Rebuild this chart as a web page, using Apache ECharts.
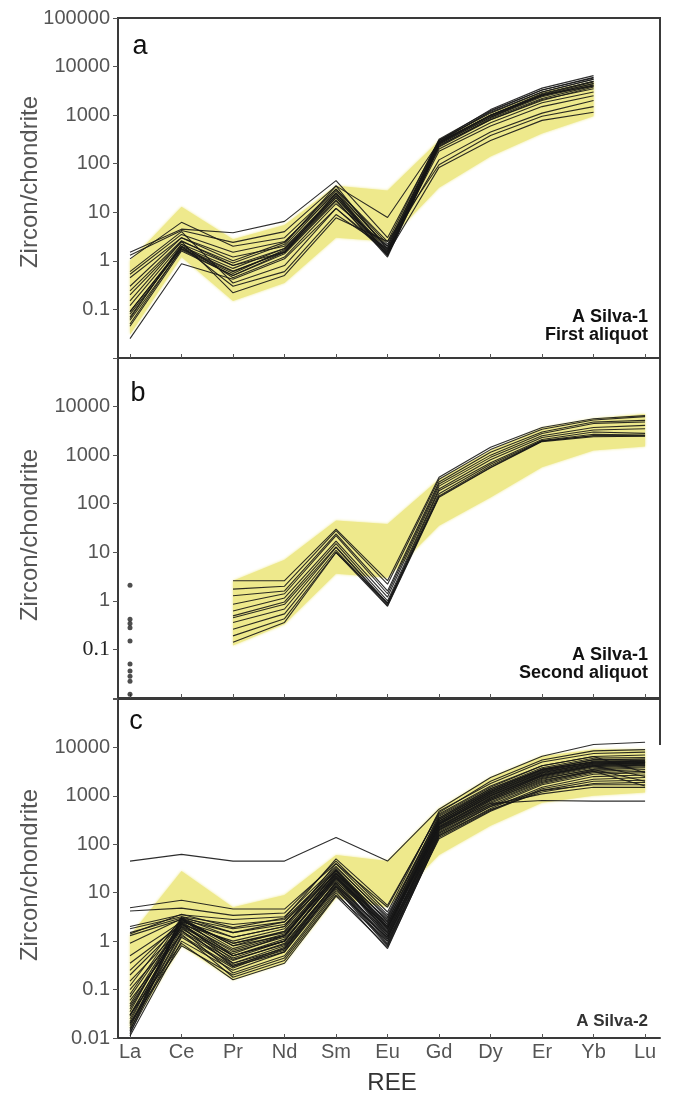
<!DOCTYPE html>
<html>
<head>
<meta charset="utf-8">
<script src="https://cdn.jsdelivr.net/npm/echarts@6/dist/echarts.min.js"></script>
<style>html,body{margin:0;padding:0;background:#fff}#c{width:673px;height:1096px}</style>
</head>
<body>
<div id="c"></div>
<script>
const categories = ['La','Ce','Pr','Nd','Sm','Eu','Gd','Dy','Er','Yb','Lu'];
const yTickLabelsA = ['', '0.1', '1', '10', '100', '1000', '10000', '100000'];
const yTickLabelsB = ['', '{s|0.1}', '1', '10', '100', '1000', '10000', ''];
const yTickLabelsC = ['0.01', '0.1', '1', '10', '100', '1000', '10000', ''];

// Panel a (La..Yb)
const bandAUpper = [1.0, 13, 2.8, 5.5, 35, 28, 300, 1100, 3000, 5000];
const bandALower = [0.03, 1.2, 0.15, 0.35, 3, 2.5, 32, 140, 420, 950];
const linesA = [
  [1.5, 4.5, 3.8, 6.5, 45, 3.0, 300, 1300, 3600, 6500],
  [1.3, 4.2, 2.4, 4.0, 35, 7.8, 280, 1200, 3300, 6000],
  [1.1, 6.2, 2.0, 3.0, 30, 2.5, 320, 1250, 3300, 5800],
  [0.53, 3.5, 1.5, 2.5, 25, 2.0, 300, 1100, 3000, 5500],
  [0.45, 3.0, 1.2, 2.0, 28, 1.8, 280, 1000, 2800, 5000],
  [0.24, 2.6, 0.8, 1.8, 22, 1.5, 250, 900, 2600, 4800],
  [0.09, 1.9, 0.62, 1.5, 20, 1.3, 260, 950, 2500, 4500],
  [0.08, 1.8, 0.6, 1.6, 22, 1.4, 250, 900, 2400, 4200],
  [0.06, 1.7, 0.5, 1.5, 18, 1.2, 230, 850, 2200, 4000],
  [0.05, 1.75, 0.55, 1.7, 20, 1.5, 240, 800, 2000, 3800],
  [0.07, 2.0, 0.7, 1.8, 24, 1.6, 270, 1000, 2600, 4000],
  [0.045, 1.6, 0.5, 1.4, 17, 1.3, 220, 800, 2100, 3500],
  [0.12, 2.2, 0.45, 1.2, 15, 2.0, 200, 700, 1800, 3000],
  [0.3, 3.0, 1.0, 2.4, 30, 2.2, 280, 1000, 2500, 4500],
  [0.6, 4.0, 0.35, 0.8, 12, 1.6, 180, 600, 1500, 2500],
  [0.09, 2.0, 0.3, 0.6, 9, 1.8, 120, 450, 1100, 2000],
  [0.2, 2.5, 0.22, 0.5, 7.7, 2.5, 95, 380, 950, 1500],
  [0.025, 0.87, 0.42, 1.1, 12, 1.4, 84, 300, 780, 1150],
  [0.065, 2.2, 0.8, 1.5, 25, 1.3, 260, 1000, 2700, 5000],
  [0.15, 2.5, 0.9, 2.2, 35, 1.7, 300, 1150, 3000, 5500]
];

// Panel b (Pr..Lu) and La points
const bandBUpper = [2.6, 7, 45, 38, 320, 1250, 3600, 5600, 7000];
const bandBLower = [0.12, 0.33, 3.6, 3, 35, 135, 560, 1240, 1500];
const linesB = [
  [2.6, 2.6, 30, 2.6, 350, 1450, 3700, 5600, 6500],
  [1.74, 2.0, 28, 2.2, 320, 1300, 3400, 5300, 6200],
  [1.27, 1.6, 24, 1.6, 280, 1150, 3000, 4800, 5200],
  [0.85, 1.4, 22, 1.4, 255, 1000, 2800, 4500, 4800],
  [0.62, 1.15, 17, 1.2, 230, 900, 2500, 3700, 4100],
  [0.49, 0.95, 15, 1.0, 200, 800, 2300, 3300, 3500],
  [0.45, 0.85, 13, 0.9, 185, 700, 2100, 3000, 2800],
  [0.36, 0.68, 12.6, 0.85, 160, 650, 2000, 2700, 2600],
  [0.26, 0.54, 11, 0.8, 145, 600, 1950, 2500, 2500],
  [0.19, 0.43, 10, 0.77, 135, 550, 1900, 2400, 2450],
  [0.14, 0.36, 9.9, 0.9, 140, 560, 1950, 2500, 2500]
];
const laPointsB = [2.1, 0.42, 0.34, 0.28, 0.15, 0.05, 0.036, 0.028, 0.022, 0.012];

// Panel c (La..Lu)
const bandCUpper = [1.3, 28, 5, 9, 60, 45, 550, 2400, 6600, 9100, 9100];
const bandCLower = [0.015, 0.8, 0.16, 0.35, 8, 5, 60, 240, 720, 1000, 1180];
const linesC = [
  [45, 62, 45, 45, 138, 45, 530, 2400, 6600, 11500, 12800],
  [4.9, 7.0, 4.6, 4.6, 40, 5.0, 450, 2000, 5500, 8500, 9000],
  [4.2, 4.8, 3.4, 3.8, 45, 4.0, 480, 1800, 5000, 7500, 8000],
  [2.0, 3.5, 2.8, 3.2, 35, 3.0, 400, 1500, 4200, 6500, 7000],
  [1.8, 3.2, 2.2, 2.8, 30, 2.5, 350, 1400, 3800, 6000, 6200],
  [1.5, 3.0, 1.8, 2.5, 28, 2.2, 320, 1300, 3600, 5500, 5800],
  [1.3, 2.8, 1.5, 2.2, 25, 2.8, 300, 1200, 3400, 5200, 5400],
  [0.5, 2.5, 1.2, 2.0, 40, 3.5, 380, 1400, 3500, 5000, 5200],
  [0.35, 2.2, 1.0, 1.8, 30, 2.0, 280, 1100, 3000, 4800, 5000],
  [0.25, 2.6, 0.9, 1.5, 22, 1.8, 260, 1000, 2800, 4500, 4800],
  [0.12, 3.0, 0.8, 1.6, 26, 1.5, 300, 1200, 3200, 5000, 5000],
  [0.08, 2.8, 0.7, 1.4, 20, 1.6, 250, 1000, 2700, 4300, 4600],
  [0.05, 2.5, 0.6, 1.2, 24, 1.4, 240, 900, 2500, 4000, 4400],
  [0.04, 2.2, 0.55, 1.3, 28, 1.8, 270, 1100, 3000, 4600, 4800],
  [0.03, 2.0, 0.5, 1.1, 18, 1.2, 220, 850, 2400, 3800, 4200],
  [0.025, 1.8, 0.45, 1.0, 22, 1.3, 230, 900, 2600, 4200, 4500],
  [0.02, 1.6, 0.4, 0.9, 16, 1.1, 200, 800, 2200, 3600, 4000],
  [0.018, 1.5, 0.35, 0.8, 15, 1.0, 190, 750, 2000, 3400, 3800],
  [0.015, 1.3, 0.3, 0.75, 14, 0.9, 180, 700, 1900, 3200, 3500],
  [0.013, 1.2, 0.28, 0.7, 13, 0.85, 170, 650, 1800, 3000, 3200],
  [0.011, 1.0, 0.25, 0.6, 12, 0.8, 160, 600, 1700, 2800, 3000],
  [0.02, 0.8, 0.2, 0.45, 10, 0.7, 150, 550, 1500, 2500, 2700],
  [0.03, 0.9, 0.16, 0.35, 8.5, 0.75, 140, 500, 1400, 2200, 2400],
  [0.06, 1.4, 0.18, 0.4, 9, 1.0, 130, 480, 1300, 2000, 2100],
  [0.1, 1.7, 0.22, 0.5, 11, 1.2, 150, 520, 1200, 1800, 1900],
  [0.045, 2.0, 0.3, 0.6, 14, 1.5, 170, 600, 1300, 1700, 1700],
  [0.07, 2.4, 0.35, 0.7, 17, 2.0, 200, 650, 1100, 1500, 1500],
  [0.035, 2.9, 0.5, 1.0, 20, 2.4, 220, 700, 800, 780, 780],
  [0.016, 3.2, 1.5, 2.5, 33, 3.2, 350, 1300, 3500, 5600, 5500],
  [0.014, 3.0, 1.2, 2.0, 30, 2.6, 330, 1250, 3300, 5000, 5200],
  [0.012, 2.7, 0.9, 1.6, 25, 2.2, 300, 1150, 3100, 4700, 4900],
  [0.022, 2.4, 0.65, 1.3, 21, 1.9, 280, 1050, 2900, 4400, 4700],
  [0.028, 2.1, 0.5, 1.0, 19, 1.7, 260, 950, 2600, 4100, 4300],
  [0.9, 2.9, 0.8, 1.3, 24, 2.0, 270, 1000, 2700, 4200, 2500],
  [1.4, 3.6, 1.9, 3.0, 50, 5.5, 420, 1600, 4200, 6500, 3000],
  [0.2, 2.3, 0.42, 0.85, 16, 1.3, 230, 850, 2300, 3500, 2000],
  [0.15, 1.9, 0.32, 0.65, 13, 1.1, 210, 800, 2100, 3200, 1600]
];

const FONT = "'Liberation Sans', Arial, sans-serif";
const YELLOW = '#EEE98C';
const FRAME = '#3a3a3a';
const xTickValues = categories.map((c, i) => i);

const grids = [
  { left: 118, width: 542, top: 18, height: 340 },
  { left: 118, width: 542, top: 358, height: 340 },
  { left: 118, width: 542, top: 699, height: 339 }
];

function makeX(idx, showLabels) {
  return {
    type: 'value', gridIndex: idx, min: -0.233, max: 10.29,
    splitLine: { show: false },
    axisLine: { show: true, onZero: false, lineStyle: { color: FRAME, width: 2 } },
    axisTick: { show: true, inside: true, length: 4, customValues: xTickValues, lineStyle: { color: '#555' } },
    axisLabel: {
      show: showLabels, customValues: xTickValues, margin: 4,
      color: '#555', fontSize: 20, fontFamily: FONT,
      formatter: v => (Math.abs(v - Math.round(v)) < 1e-6 ? (categories[Math.round(v)] || '') : '')
    }
  };
}
function makeY(idx, labels) {
  return {
    type: 'log', logBase: 10, gridIndex: idx, min: 0.01, max: 100000, splitNumber: 7,
    splitLine: { show: false },
    axisLine: { show: true, onZero: false, lineStyle: { color: FRAME, width: 2 } },
    axisTick: { show: true, inside: false, length: 5, lineStyle: { color: '#555' } },
    axisLabel: {
      show: true, margin: 8, color: '#555', fontSize: 20, fontFamily: FONT,
      formatter: v => { const e = Math.round(Math.log10(v)); return labels[e + 2] || ''; },
      rich: { s: { fontFamily: "'Liberation Serif', 'Times New Roman', serif", fontSize: 22, color: '#222' } }
    }
  };
}

function bandSeries(idx, upper, lower, start) {
  return {
    type: 'custom', xAxisIndex: idx, yAxisIndex: idx, silent: true, z: 1,
    data: [[start, upper[0]]],
    renderItem: (params, api) => {
      const pts = [];
      upper.forEach((v, i) => pts.push(api.coord([start + i, v])));
      for (let i = lower.length - 1; i >= 0; i--) pts.push(api.coord([start + i, lower[i]]));
      return { type: 'polygon', shape: { points: pts }, style: { fill: YELLOW, shadowBlur: 3, shadowColor: YELLOW } };
    }
  };
}
function lineSeries(idx, arr, start) {
  return {
    type: 'line', xAxisIndex: idx, yAxisIndex: idx, silent: true, z: 2,
    symbol: 'none', data: arr.map((v, i) => [start + i, v]),
    lineStyle: { color: '#161616', width: 1.1, opacity: 0.9 }
  };
}

const series = [];
series.push(bandSeries(0, bandAUpper, bandALower, 0));
linesA.forEach(a => series.push(lineSeries(0, a, 0)));
series.push(bandSeries(1, bandBUpper, bandBLower, 2));
linesB.forEach(a => series.push(lineSeries(1, a, 2)));
series.push({
  type: 'scatter', xAxisIndex: 1, yAxisIndex: 1, silent: true, z: 3,
  symbol: 'circle', symbolSize: 5, itemStyle: { color: '#222' },
  data: laPointsB.map(v => [0, v])
});
series.push(bandSeries(2, bandCUpper, bandCLower, 0));
linesC.forEach(a => series.push(lineSeries(2, a, 0)));

function txt(x, y, text, size, opts) {
  return Object.assign({
    type: 'text', x: x, y: y, silent: true, z: 100,
    style: Object.assign({ text: text, fontSize: size, fontFamily: FONT, fill: '#111', align: 'center', verticalAlign: 'middle' }, opts && opts.style || {})
  }, opts && opts.el || {});
}

const graphic = [
  { type: 'line', z: 50, shape: { x1: 118, y1: 699, x2: 661, y2: 699 }, style: { stroke: FRAME, lineWidth: 2 } },
  { type: 'line', z: 50, shape: { x1: 660, y1: 699, x2: 660, y2: 745 }, style: { stroke: FRAME, lineWidth: 2 } },
  txt(140, 47, 'a', 27),
  txt(138, 394, 'b', 27),
  txt(136, 722, 'c', 27),
  txt(648, 317, 'A Silva-1', 18, { style: { align: 'right', fontWeight: 'bold' } }),
  txt(648, 335, 'First aliquot', 18, { style: { align: 'right', fontWeight: 'bold' } }),
  txt(648, 655, 'A Silva-1', 18, { style: { align: 'right', fontWeight: 'bold' } }),
  txt(648, 673, 'Second aliquot', 18, { style: { align: 'right', fontWeight: 'bold' } }),
  txt(648, 1021, 'A Silva-2', 17, { style: { align: 'right', fontWeight: 'bold', fill: '#333' } }),
  txt(30, 182, 'Zircon/chondrite', 24, { style: { fill: '#555' }, el: { rotation: Math.PI / 2 } }),
  txt(30, 535, 'Zircon/chondrite', 24, { style: { fill: '#555' }, el: { rotation: Math.PI / 2 } }),
  txt(30, 875, 'Zircon/chondrite', 24, { style: { fill: '#555' }, el: { rotation: Math.PI / 2 } }),
  txt(392, 1083, 'REE', 24, { style: { fill: '#333' } })
];

const chart = echarts.init(document.getElementById('c'), null, { renderer: 'canvas' });
chart.setOption({
  animation: false,
  backgroundColor: '#fff',
  grid: [
    Object.assign({ show: true, borderColor: FRAME, borderWidth: 2 }, grids[0]),
    Object.assign({ show: true, borderColor: FRAME, borderWidth: 2 }, grids[1]),
    Object.assign({ show: false }, grids[2])
  ],
  xAxis: [makeX(0, false), makeX(1, false), makeX(2, true)],
  yAxis: [makeY(0, yTickLabelsA), makeY(1, yTickLabelsB), makeY(2, yTickLabelsC)],
  series: series,
  graphic: graphic
});
</script>
</body>
</html>
